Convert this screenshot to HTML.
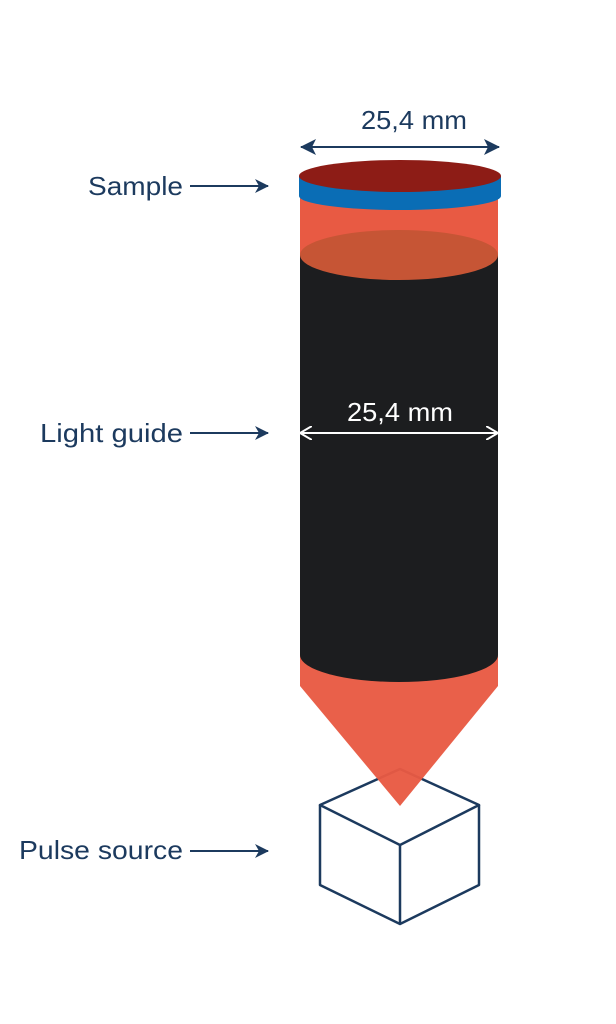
<!DOCTYPE html>
<html><head><style>body{margin:0;background:#fff}svg{display:block}</style></head>
<body>
<svg width="616" height="1024" viewBox="0 0 616 1024" xmlns="http://www.w3.org/2000/svg" font-family="Liberation Sans, sans-serif">
<defs>
<marker id="ab" markerWidth="14" markerHeight="14" refX="13" refY="7" orient="auto-start-reverse" markerUnits="userSpaceOnUse"><path d="M0,0 L14,7 L0,14 L4,7 Z" fill="#1c3a5e"/></marker>
<marker id="aw" markerWidth="12" markerHeight="14" refX="11" refY="7" orient="auto-start-reverse" markerUnits="userSpaceOnUse"><path d="M0,0 L12,7 L0,14" fill="none" stroke="#fff" stroke-width="2"/></marker>
<marker id="an" markerWidth="16" markerHeight="16" refX="15" refY="8" orient="auto-start-reverse" markerUnits="userSpaceOnUse"><path d="M0,0 L16,8 L0,16 L4,8 Z" fill="#1c3a5e"/></marker>
</defs>
<g fill="none" stroke="#1c3a5e" stroke-width="2.5" stroke-linejoin="round">
<path d="M400,769 L320,805 L400,845 L479,805 Z"/>
<path d="M320,805 L320,885 L400,924 L479,885 L479,805"/>
<path d="M400,845 L400,924"/>
</g>
<rect x="300" y="196" width="198" height="60" fill="#e85a43"/>
<path d="M300,655 L300,686 L400,806 L498,686 L498,655 Z" fill="#e85a43" opacity="0.96"/>
<path d="M300,255 L300,655 A99,27 0 0 0 498,655 L498,255 Z" fill="#1c1d1f"/>
<ellipse cx="399" cy="255" rx="99" ry="25" fill="#c65535"/>
<path d="M299,176 L299,196 A101,14 0 0 0 501,196 L501,176 Z" fill="#0a6db5"/>
<ellipse cx="400" cy="176" rx="101" ry="16" fill="#8d1c16"/>
<text x="361" y="129" font-size="26" fill="#1c3a5e" textLength="106" lengthAdjust="spacingAndGlyphs">25,4 mm</text>
<line x1="301" y1="147" x2="499" y2="147" stroke="#1c3a5e" stroke-width="2" marker-start="url(#an)" marker-end="url(#an)"/>
<text x="347" y="421" font-size="26" fill="#fff" textLength="106" lengthAdjust="spacingAndGlyphs">25,4 mm</text>
<line x1="301" y1="433" x2="497" y2="433" stroke="#fff" stroke-width="2" marker-start="url(#aw)" marker-end="url(#aw)"/>
<g font-size="26" fill="#1c3a5e">
<text x="88" y="195" textLength="95" lengthAdjust="spacingAndGlyphs">Sample</text>
<text x="40" y="442" textLength="143" lengthAdjust="spacingAndGlyphs">Light guide</text>
<text x="19" y="859" textLength="164" lengthAdjust="spacingAndGlyphs">Pulse source</text>
</g>
<g stroke="#1c3a5e" stroke-width="2">
<line x1="190" y1="186" x2="268" y2="186" marker-end="url(#ab)"/>
<line x1="190" y1="433" x2="268" y2="433" marker-end="url(#ab)"/>
<line x1="190" y1="851" x2="268" y2="851" marker-end="url(#ab)"/>
</g>
</svg>
</body></html>
